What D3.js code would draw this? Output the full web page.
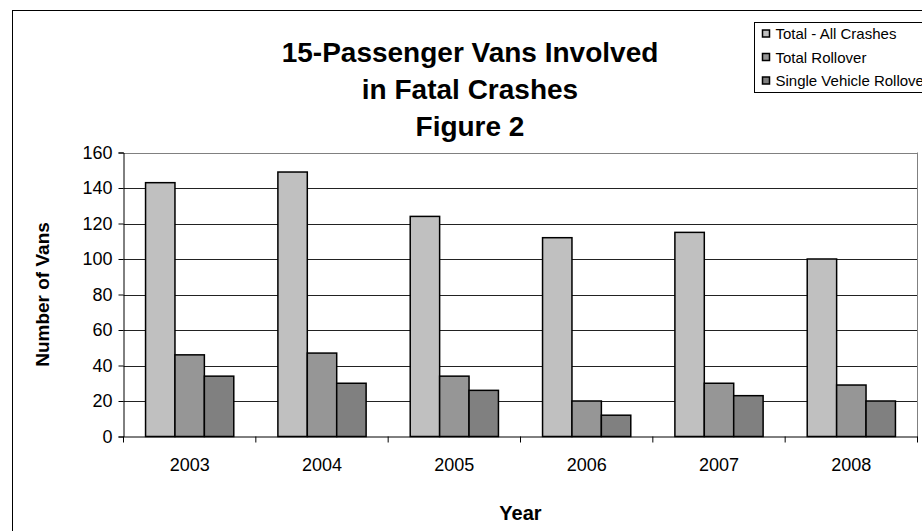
<!DOCTYPE html>
<html>
<head>
<meta charset="utf-8">
<script src="https://cdn.jsdelivr.net/npm/d3@7"></script>
<style>
html,body{margin:0;padding:0;background:#fff;}
svg{display:block;font-family:"Liberation Sans",Arial,sans-serif;}
</style>
</head>
<body>
<svg id="chart" width="922" height="531"></svg>
<script>
const years = ["2003", "2004", "2005", "2006", "2007", "2008"];
const seriesNames = ["Total - All Crashes", "Total Rollover", "Single Vehicle Rollover"];
const totalAll = [143, 149, 124, 112, 115, 100];
const totalRollover = [46, 47, 34, 20, 30, 29];
const singleRollover = [34, 30, 26, 12, 23, 20];
const yTicks = [0, 20, 40, 60, 80, 100, 120, 140, 160];
const titleLines = ["15-Passenger Vans Involved", "in Fatal Crashes", "Figure 2"];
const colors = ["#C0C0C0", "#969696", "#808080"];

const seriesValues = [totalAll, totalRollover, singleRollover];
const svg = d3.select("#chart");

// outer chart border
svg.append("rect").attr("x", 12.5).attr("y", 10.5).attr("width", 940).attr("height", 560)
  .attr("fill", "#fff").attr("stroke", "#000").attr("stroke-width", 1);

const plot = {left: 123.5, right: 917.5, top: 152.5, bottom: 436.5};

const y = d3.scaleLinear().domain([0, 160]).range([plot.bottom, plot.top]);
const x0 = d3.scaleBand().domain(years).range([plot.left, plot.right]).padding(0);
const bw = x0.bandwidth();
const groupW = bw * 3 / 4.5;
const x1 = d3.scaleBand().domain(d3.range(3)).range([(bw - groupW) / 2, (bw + groupW) / 2]).padding(0);

// gridlines
svg.append("g").selectAll("line").data(yTicks.filter(d => d > 0)).join("line")
  .attr("x1", plot.left).attr("x2", plot.right)
  .attr("y1", d => Math.round(y(d)) + 0.5).attr("y2", d => Math.round(y(d)) + 0.5)
  .attr("stroke", d => d === 160 ? "#808080" : "#222").attr("stroke-width", 1);

// right plot border
svg.append("line").attr("x1", plot.right).attr("x2", plot.right)
  .attr("y1", plot.top).attr("y2", plot.bottom).attr("stroke", "#808080");

// bars
const groups = svg.append("g").selectAll("g").data(years).join("g")
  .attr("transform", d => `translate(${x0(d)},0)`);
groups.selectAll("rect").data((d, i) => seriesValues.map((s, k) => ({k, v: s[i]}))).join("rect")
  .attr("x", d => x1(d.k))
  .attr("y", d => y(d.v))
  .attr("width", x1.bandwidth())
  .attr("height", d => y(0) - y(d.v))
  .attr("fill", d => colors[d.k])
  .attr("stroke", "#000").attr("stroke-width", 1.5);

// y axis
const yAxis = d3.axisLeft(y).tickValues(yTicks).tickSize(5).tickPadding(6);
const gy = svg.append("g").attr("transform", `translate(${plot.left},0)`).call(yAxis);
gy.select(".domain").attr("stroke", "#000");
gy.selectAll(".tick line").attr("stroke", "#000");
gy.selectAll("text").attr("font-size", 18).attr("fill", "#000")
  .attr("font-family", "Liberation Sans, Arial, sans-serif");

// x axis
const xAxis = d3.axisBottom(x0).tickSize(0).tickPadding(22);
const gx = svg.append("g").attr("transform", `translate(0,${plot.bottom})`).call(xAxis);
gx.select(".domain").attr("stroke", "#000");
gx.selectAll("text").attr("font-size", 18).attr("fill", "#000")
  .attr("font-family", "Liberation Sans, Arial, sans-serif");
// category boundary ticks
const bounds = years.map(d => x0(d)).concat([plot.right]);
gx.append("g").selectAll("line").data(bounds).join("line")
  .attr("x1", d => d).attr("x2", d => d).attr("y1", 0).attr("y2", 6).attr("stroke", "#000");

// title
svg.append("g").selectAll("text").data(titleLines).join("text")
  .attr("x", 470).attr("y", (d, i) => 62 + i * 37)
  .attr("text-anchor", "middle").attr("font-size", 28).attr("font-weight", "bold")
  .attr("fill", "#000").text(d => d);

// axis titles
svg.append("text").attr("transform", `translate(49,${(plot.top + plot.bottom) / 2}) rotate(-90)`)
  .attr("text-anchor", "middle").attr("font-size", 19).attr("font-weight", "bold").text("Number of Vans");
svg.append("text").attr("x", (plot.left + plot.right) / 2).attr("y", 520)
  .attr("text-anchor", "middle").attr("font-size", 20).attr("font-weight", "bold").text("Year");

// legend
const lg = svg.append("g").attr("transform", "translate(754.5,22.5)");
lg.append("rect").attr("width", 200).attr("height", 70).attr("fill", "#fff").attr("stroke", "#000");
const items = lg.selectAll("g").data(seriesNames).join("g")
  .attr("transform", (d, i) => `translate(0,${11 + i * 23.5})`);
items.append("rect").attr("x", 8).attr("y", -3.5).attr("width", 7).attr("height", 7)
  .attr("fill", (d, i) => colors[i]).attr("stroke", "#000").attr("stroke-width", 1.5);
items.append("text").attr("x", 21).attr("y", 5.5).attr("font-size", 15).attr("fill", "#000").text(d => d);
</script>
</body>
</html>
